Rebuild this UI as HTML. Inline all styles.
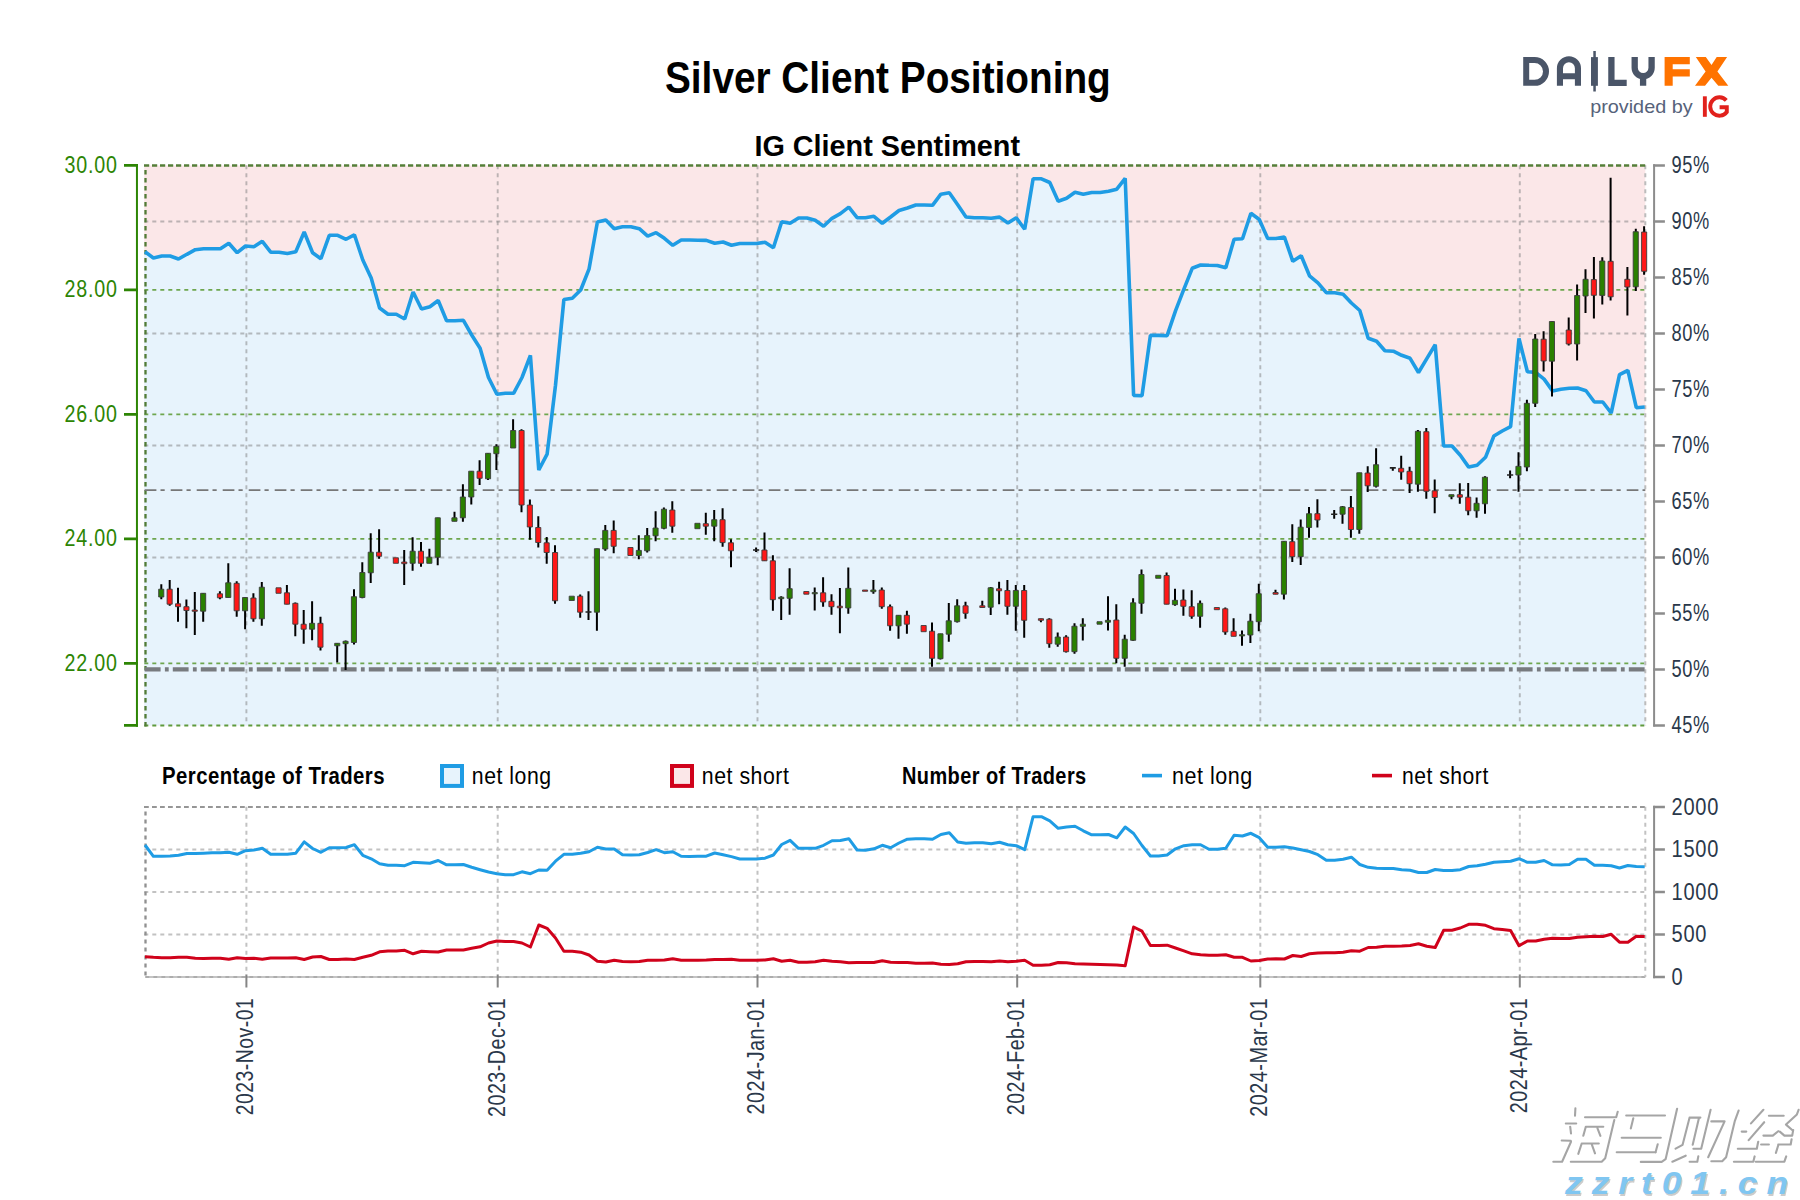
<!DOCTYPE html>
<html><head><meta charset="utf-8"><title>Silver Client Positioning</title>
<style>html,body{margin:0;padding:0;background:#fff}svg{display:block}text{font-family:"Liberation Sans",sans-serif}</style></head><body>
<svg width="1800" height="1200" viewBox="0 0 1800 1200">
<rect width="1800" height="1200" fill="#fff"/>
<rect x="144.2" y="165.5" width="1501.1" height="559.9" fill="#fbe7e8"/>
<polygon points="144.2,725.4 144.2,251.7 145,251.7 153.4,258 161.8,256 170.1,256 178.5,259 186.9,254.3 195.3,249.7 203.6,248.8 212,248.8 220.4,248.8 228.8,243.3 237.2,252.7 245.5,246 253.9,246.8 262.3,241.3 270.7,252.2 279,252.2 287.4,253.5 295.8,251.7 304.2,232 312.6,252.7 320.9,258.7 329.3,235.3 337.7,235.3 346.1,239.3 354.4,234.7 362.8,260 371.2,278 379.6,308 388,314.3 396.3,314.3 404.7,319 413.1,292 421.5,309 429.9,306.7 438.2,300.5 446.6,320.8 455,320.8 463.4,320.3 471.7,335 480.1,348.3 488.5,377.5 496.9,394.2 505.3,393.3 513.6,393.3 522,377.5 530.4,355.5 538.8,470 547.1,454.2 555.5,385.2 563.9,299.5 572.3,298.3 580.7,290 589,269.2 597.4,222 605.8,220 614.2,228.8 622.5,226.7 630.9,226.7 639.3,228.7 647.7,236.2 656.1,232.7 664.4,238.3 672.8,245.3 681.2,240 689.6,240 697.9,240.3 706.3,240.4 714.7,243.2 723.1,242 731.5,245.3 739.8,243.5 748.2,243.5 756.6,243.5 765,242.3 773.4,247.7 781.7,221.7 790.1,223.3 798.5,218 806.9,218 815.2,220.3 823.6,226.2 832,218.3 840.4,213.7 848.8,207.2 857.1,217.7 865.5,217.7 873.9,216.3 882.3,223.3 890.6,217 899,210.5 907.4,208 915.8,205 924.2,205 932.5,205.3 940.9,194.2 949.3,192.8 957.7,204.7 966,217 974.4,217.8 982.8,217.8 991.2,218.3 999.6,217.1 1007.9,223 1016.3,217.8 1024.7,229.2 1033.1,178.8 1041.4,178.8 1049.8,182.5 1058.2,201.2 1066.6,198.3 1075,192.2 1083.3,194.3 1091.7,192.5 1100.1,192.5 1108.5,191.3 1116.8,189.2 1125.2,178.3 1133.6,395.4 1142,395.8 1150.4,335.4 1158.7,335.4 1167.1,335.7 1175.5,310.8 1183.9,289.2 1192.2,268.3 1200.6,265 1209,265.3 1217.4,265.5 1225.8,267.8 1234.1,239.2 1242.5,238.7 1250.9,213.3 1259.3,219.5 1267.7,238.5 1276,238.5 1284.4,237 1292.8,261.3 1301.2,255.8 1309.5,275.8 1317.9,282.8 1326.3,292.7 1334.7,292.8 1343.1,294.2 1351.4,303 1359.8,310.5 1368.2,338.3 1376.6,341.2 1384.9,350.8 1393.3,351.2 1401.7,355.3 1410.1,358.3 1418.5,372.5 1426.8,358.6 1435.2,344.7 1443.6,446 1452,446 1460.3,455.3 1468.7,467.1 1477.1,465.3 1485.5,457.3 1493.9,436 1502.2,431 1510.6,426.7 1519,338.5 1527.4,371.8 1535.7,372.4 1544.1,379.1 1552.5,390.9 1560.9,389.3 1569.3,388.3 1577.6,388 1586,390.7 1594.4,402 1602.8,402 1611.2,413 1619.5,374.7 1627.9,370.3 1636.3,407.7 1644.7,407 1645.3,725.4" fill="#e7f3fc"/>
<path d="M246.4 165.3V723.4M497.7 165.3V723.4M757.5 165.3V723.4M1017.2 165.3V723.4M1260.3 165.3V723.4M1519.8 165.3V723.4" stroke="#7d7d7d" stroke-opacity="0.5" stroke-width="1.9" stroke-dasharray="4 4" fill="none"/>
<path d="M144.3 221.5H1644.3M144.3 333.5H1644.3M144.3 445.5H1644.3M144.3 557.5H1644.3" stroke="#7d7d7d" stroke-opacity="0.5" stroke-width="1.9" stroke-dasharray="4 4" fill="none"/>
<path d="M144.3 289.9H1644.3M144.3 414.4H1644.3M144.3 538.9H1644.3M144.3 663.4H1644.3" stroke="#6ea64e" stroke-width="1.9" stroke-dasharray="4 4" fill="none"/>
<path d="M144.3 725.4H1645.3" stroke="#5f9a3c" stroke-width="2" stroke-dasharray="4 4" fill="none"/>
<path d="M1645.3 165.3V725.4" stroke="#bcbcbc" stroke-width="2" stroke-dasharray="4 4" fill="none"/>
<path d="M144 165.5H1646.1" stroke="#557f39" stroke-width="2.3" stroke-dasharray="5.2 2.8" fill="none"/>
<path d="M145.5 170V726.4" stroke="#527c36" stroke-width="2.3" stroke-dasharray="4.5 3.5" fill="none"/>
<path d="M144.7 490.2H1645.3" stroke="#777" stroke-width="1.8" stroke-dasharray="11.7 4.1 4.2 6" fill="none"/>
<path d="M144.8 669.4H1645.3" stroke="#787b7f" stroke-width="4.1" stroke-dasharray="15.8 4.3 3.8 4.1" fill="none"/>
<polyline points="145,251.7 153.4,258 161.8,256 170.1,256 178.5,259 186.9,254.3 195.3,249.7 203.6,248.8 212,248.8 220.4,248.8 228.8,243.3 237.2,252.7 245.5,246 253.9,246.8 262.3,241.3 270.7,252.2 279,252.2 287.4,253.5 295.8,251.7 304.2,232 312.6,252.7 320.9,258.7 329.3,235.3 337.7,235.3 346.1,239.3 354.4,234.7 362.8,260 371.2,278 379.6,308 388,314.3 396.3,314.3 404.7,319 413.1,292 421.5,309 429.9,306.7 438.2,300.5 446.6,320.8 455,320.8 463.4,320.3 471.7,335 480.1,348.3 488.5,377.5 496.9,394.2 505.3,393.3 513.6,393.3 522,377.5 530.4,355.5 538.8,470 547.1,454.2 555.5,385.2 563.9,299.5 572.3,298.3 580.7,290 589,269.2 597.4,222 605.8,220 614.2,228.8 622.5,226.7 630.9,226.7 639.3,228.7 647.7,236.2 656.1,232.7 664.4,238.3 672.8,245.3 681.2,240 689.6,240 697.9,240.3 706.3,240.4 714.7,243.2 723.1,242 731.5,245.3 739.8,243.5 748.2,243.5 756.6,243.5 765,242.3 773.4,247.7 781.7,221.7 790.1,223.3 798.5,218 806.9,218 815.2,220.3 823.6,226.2 832,218.3 840.4,213.7 848.8,207.2 857.1,217.7 865.5,217.7 873.9,216.3 882.3,223.3 890.6,217 899,210.5 907.4,208 915.8,205 924.2,205 932.5,205.3 940.9,194.2 949.3,192.8 957.7,204.7 966,217 974.4,217.8 982.8,217.8 991.2,218.3 999.6,217.1 1007.9,223 1016.3,217.8 1024.7,229.2 1033.1,178.8 1041.4,178.8 1049.8,182.5 1058.2,201.2 1066.6,198.3 1075,192.2 1083.3,194.3 1091.7,192.5 1100.1,192.5 1108.5,191.3 1116.8,189.2 1125.2,178.3 1133.6,395.4 1142,395.8 1150.4,335.4 1158.7,335.4 1167.1,335.7 1175.5,310.8 1183.9,289.2 1192.2,268.3 1200.6,265 1209,265.3 1217.4,265.5 1225.8,267.8 1234.1,239.2 1242.5,238.7 1250.9,213.3 1259.3,219.5 1267.7,238.5 1276,238.5 1284.4,237 1292.8,261.3 1301.2,255.8 1309.5,275.8 1317.9,282.8 1326.3,292.7 1334.7,292.8 1343.1,294.2 1351.4,303 1359.8,310.5 1368.2,338.3 1376.6,341.2 1384.9,350.8 1393.3,351.2 1401.7,355.3 1410.1,358.3 1418.5,372.5 1426.8,358.6 1435.2,344.7 1443.6,446 1452,446 1460.3,455.3 1468.7,467.1 1477.1,465.3 1485.5,457.3 1493.9,436 1502.2,431 1510.6,426.7 1519,338.5 1527.4,371.8 1535.7,372.4 1544.1,379.1 1552.5,390.9 1560.9,389.3 1569.3,388.3 1577.6,388 1586,390.7 1594.4,402 1602.8,402 1611.2,413 1619.5,374.7 1627.9,370.3 1636.3,407.7 1644.7,407" fill="none" stroke="#1f9ce4" stroke-width="3.6" stroke-linejoin="bevel"/>
<path d="M161.3 584.2V599.2M169.7 580V605.8M178 587.8V621.7M186.4 599.5V628.3M194.8 592V635M203.2 593.3V621.7M219.9 591.2V599.2M228.3 563.3V597.5M236.7 581.3V616.7M245.1 597.5V629.2M253.4 593.3V621.7M261.8 582V625.8M286.9 585V604.2M295.3 602.5V636.2M303.7 610V643.8M312.1 601.2V640.3M320.5 616.7V650.5M337.2 643.3V662.5M345.6 640.5V670M354 589.2V644.5M362.3 562.2V598.3M370.7 533.3V583M379.1 529.2V558.7M404.2 550V585M412.6 537.2V570.8M421 542V566.7M429.4 548.8V563.3M437.7 517.8V565.2M454.5 511.7V521.3M462.9 484.2V521.7M471.3 471.2V504.5M479.6 460.3V485M488 453.3V480M496.4 444.2V470M513.1 419.2V448M521.5 429.2V512.2M529.9 499.5V539.7M538.3 516.3V547.5M546.7 537V563.8M555 545.2V603.8M580.2 594.5V617.8M588.5 591.2V620M596.9 548.7V630.8M605.3 525V550.7M613.7 520.5V553.3M638.8 535.2V559.3M647.2 528.1V552.5M655.6 511.2V541.2M663.9 507.5V529.2M672.3 501.2V532.8M705.8 512.8V534.7M714.2 510V541.2M722.6 508.3V546.7M731 539.2V567.2M756.1 547.5V552M764.5 532.5V560.8M772.9 555.3V610.8M781.2 596.3V620M789.6 568.3V614.7M814.7 587.5V610.6M823.1 577.2V606.7M831.5 594.2V614.7M839.9 588V633.3M848.3 567.5V613.8M873.4 580V593.7M881.8 587.5V608.8M890.1 604.5V630.8M898.5 615.3V638.7M906.9 610.8V633.8M932 622.5V666.7M940.4 633.8V659.5M948.8 603V641.7M957.2 599.2V622.5M965.5 601.7V618.8M982.3 600.8V607.5M990.7 587V615M999.1 581.7V604.2M1007.4 580V614.7M1015.8 585V630.8M1024.2 585V637.8M1040.9 618.7V622.2M1049.3 618.3V647.8M1057.7 632.5V646.7M1066.1 635.3V652.5M1074.5 623.3V653.8M1082.8 618.2V640.4M1108 596.2V630.5M1116.3 604.2V663.3M1124.7 634.7V666.7M1133.1 598.3V640.8M1141.5 569.5V613.7M1166.6 572.5V604.2M1175 588.7V605.8M1183.4 589.5V615.8M1191.7 590.3V618.7M1200.1 600.5V627.8M1225.3 607.5V634.7M1233.6 618.3V636.3M1242 630.5V645.8M1250.4 613.7V643M1258.8 583.8V631.2M1275.5 589.7V594.2M1283.9 541.3V599.5M1292.3 524.2V562M1300.7 519.5V565M1309 507V537.8M1317.4 499.2V527.5M1334.2 510V518.8M1342.5 506V523.7M1350.9 496V537.8M1359.3 472.8V533.7M1367.7 466.3V492M1376.1 448.3V487.5M1392.8 467.5V470.8M1401.2 455.8V479.7M1409.6 466.7V493M1417.9 430V491.7M1426.3 428V498.7M1434.7 479.5V513.3M1451.5 494.7V499.2M1459.8 483.3V503.7M1468.2 483V515.3M1476.6 497.5V517.8M1485 476.2V513.7M1510.1 470.5V478.3M1518.5 452.2V491.7M1526.9 399.7V471.3M1535.2 334V407M1543.6 331.2V371.5M1552 321.5V396.5M1568.7 317.5V345.5M1577.1 284.5V360.5M1585.5 269.3V313M1593.9 257V318.6M1602.3 257.3V304.6M1610.6 177.7V300.4M1627.4 267V315.6M1635.8 228.7V291M1644.1 226.3V274.7" stroke="#000" stroke-width="2" fill="none"/>
<path d="M158.7 589.2h5.1v7.8h-5.1zM200.6 593.3h5.1v17.9h-5.1zM225.7 582.8h5.1v14.7h-5.1zM242.5 597.5h5.1v13.3h-5.1zM259.3 587.2h5.1v31.6h-5.1zM309.5 623.3h5.1v5.9h-5.1zM334.7 643.3h5.1v2.5h-5.1zM343 641.3h5.1v2.4h-5.1zM351.4 596.7h5.1v45.8h-5.1zM359.8 572.5h5.1v25h-5.1zM368.2 552.2h5.1v20.6h-5.1zM410.1 551.2h5.1v12.1h-5.1zM426.8 557.2h5.1v6.1h-5.1zM435.2 517.8h5.1v39.5h-5.1zM451.9 517.8h5.1v3.5h-5.1zM460.3 497h5.1v20.8h-5.1zM468.7 471.2h5.1v25.8h-5.1zM485.5 453.3h5.1v25.5h-5.1zM493.8 446.3h5.1v7.4h-5.1zM510.6 430.5h5.1v17.5h-5.1zM569.2 596.2h5.1v4.3h-5.1zM594.4 548.7h5.1v63.5h-5.1zM602.7 530.4h5.1v18.6h-5.1zM636.3 550.4h5.1v5.1h-5.1zM644.6 535.6h5.1v15.2h-5.1zM653 528h5.1v7.8h-5.1zM661.4 509.2h5.1v19.1h-5.1zM694.9 523.3h5.1v5.4h-5.1zM711.7 519.7h5.1v6.5h-5.1zM778.7 597.2h5.1v1.5h-5.1zM787.1 588.7h5.1v9.6h-5.1zM812.2 592.6h5.1v1.2h-5.1zM845.7 588.3h5.1v19.7h-5.1zM870.8 590h5.1v1.7h-5.1zM896 615.3h5.1v10.5h-5.1zM937.9 633.8h5.1v24.9h-5.1zM946.2 620.8h5.1v13.4h-5.1zM954.6 605.8h5.1v15.9h-5.1zM988.1 587.8h5.1v19.4h-5.1zM1013.3 590.5h5.1v15.8h-5.1zM1055.2 637h5.1v7.2h-5.1zM1071.9 626.2h5.1v25.5h-5.1zM1080.3 624.2h5.1v2.1h-5.1zM1097 621.7h5.1v2.5h-5.1zM1105.4 620.3h5.1v1.9h-5.1zM1122.2 639.2h5.1v19.1h-5.1zM1130.6 602.8h5.1v37.5h-5.1zM1138.9 574.5h5.1v28.8h-5.1zM1155.7 575.3h5.1v3h-5.1zM1172.4 600.3h5.1v4.4h-5.1zM1197.6 603.3h5.1v13h-5.1zM1239.5 634.7h5.1v1.2h-5.1zM1247.8 621.2h5.1v13.8h-5.1zM1256.2 593.7h5.1v28h-5.1zM1281.4 541.3h5.1v52.9h-5.1zM1298.1 527.2h5.1v29.5h-5.1zM1306.5 513.7h5.1v13.8h-5.1zM1340 506.8h5.1v7.4h-5.1zM1356.8 472.8h5.1v56.7h-5.1zM1373.5 464.7h5.1v21.6h-5.1zM1415.4 431.3h5.1v52.9h-5.1zM1448.9 494.7h5.1v2h-5.1zM1474 503.3h5.1v7.5h-5.1zM1482.4 477.2h5.1v26.6h-5.1zM1515.9 466.3h5.1v8.7h-5.1zM1524.3 403.3h5.1v63.7h-5.1zM1532.7 339h5.1v64.3h-5.1zM1549.4 321.5h5.1v39.7h-5.1zM1574.6 295.5h5.1v48.5h-5.1zM1583 279.3h5.1v16.7h-5.1zM1599.7 261h5.1v34.4h-5.1zM1633.2 231.7h5.1v55.1h-5.1z" fill="#2a8000" stroke="#3c3c3c" stroke-width="0.9"/>
<path d="M167.1 589.2h5.1v15h-5.1zM175.5 603.8h5.1v2.9h-5.1zM183.9 606.7h5.1v3.8h-5.1zM192.2 610h5.1v1.3h-5.1zM217.4 593.8h5.1v4h-5.1zM234.1 583.3h5.1v27.5h-5.1zM250.9 598h5.1v20.8h-5.1zM276 587.8h5.1v5.5h-5.1zM284.4 592.8h5.1v11.4h-5.1zM292.8 603.3h5.1v20.9h-5.1zM301.1 624.2h5.1v5h-5.1zM317.9 623.3h5.1v23.9h-5.1zM376.5 552.2h5.1v4.1h-5.1zM393.3 557.8h5.1v5.5h-5.1zM401.7 562h5.1v1.7h-5.1zM418.4 551.2h5.1v12.1h-5.1zM477.1 471.2h5.1v7.1h-5.1zM519 430.5h5.1v74.5h-5.1zM527.3 505h5.1v22h-5.1zM535.7 527.5h5.1v15h-5.1zM544.1 542.8h5.1v9.7h-5.1zM552.5 552.5h5.1v48.3h-5.1zM577.6 596.2h5.1v16h-5.1zM611.1 530.4h5.1v15.9h-5.1zM627.9 547.5h5.1v8h-5.1zM669.8 510h5.1v16.2h-5.1zM703.3 523.7h5.1v2.5h-5.1zM720 519.7h5.1v22.9h-5.1zM728.4 542.8h5.1v8h-5.1zM761.9 550h5.1v10.8h-5.1zM770.3 560.8h5.1v38.9h-5.1zM803.8 591.5h5.1v2.7h-5.1zM820.6 592.8h5.1v9.2h-5.1zM828.9 601.3h5.1v5.4h-5.1zM837.3 606.2h5.1v1.6h-5.1zM862.5 590h5.1v1.3h-5.1zM879.2 590h5.1v16.7h-5.1zM887.6 606.7h5.1v19.1h-5.1zM904.3 615.3h5.1v8.9h-5.1zM921.1 625.5h5.1v6.2h-5.1zM929.5 631.2h5.1v27.1h-5.1zM963 605.8h5.1v7.5h-5.1zM979.8 605.8h5.1v1.7h-5.1zM996.5 588.8h5.1v2h-5.1zM1004.9 590.5h5.1v15.8h-5.1zM1021.6 590.5h5.1v29.8h-5.1zM1038.4 618.7h5.1v1.6h-5.1zM1046.8 619.2h5.1v24.5h-5.1zM1063.5 637h5.1v14.7h-5.1zM1113.8 620h5.1v38.3h-5.1zM1164.1 575.5h5.1v28.7h-5.1zM1180.8 600h5.1v6.3h-5.1zM1189.2 606.7h5.1v9.6h-5.1zM1214.3 607.5h5.1v2.2h-5.1zM1222.7 608.8h5.1v23.2h-5.1zM1231.1 631.3h5.1v5h-5.1zM1273 592.5h5.1v1.7h-5.1zM1289.7 541.7h5.1v15h-5.1zM1314.9 513.7h5.1v6.3h-5.1zM1348.4 507.5h5.1v22h-5.1zM1365.1 473h5.1v12.8h-5.1zM1398.6 468.3h5.1v3.7h-5.1zM1407 471.3h5.1v12.4h-5.1zM1423.8 431.7h5.1v59.6h-5.1zM1432.2 490.8h5.1v6.7h-5.1zM1457.3 494.7h5.1v2.5h-5.1zM1465.7 497.2h5.1v13.6h-5.1zM1541.1 339.2h5.1v21.8h-5.1zM1566.2 330h5.1v14h-5.1zM1591.3 279.6h5.1v15.7h-5.1zM1608.1 261.3h5.1v35.5h-5.1zM1624.8 279.3h5.1v7.7h-5.1zM1641.6 232h5.1v39.3h-5.1z" fill="#ff1717" stroke="#3c3c3c" stroke-width="0.9"/>
<path d="M585.5 612H591.5M753 550H759.2M1331.1 514.2H1337.3M1389.8 467.9H1395.8M1507 475H1513.2" stroke="#222" stroke-width="1.6" fill="none"/>
<path d="M136.95 164V726.8" stroke="#2d8504" stroke-width="2" fill="none"/>
<path d="M124 165.4H138M124 289.9H138M124 414.4H138M124 538.9H138M124 663.4H138M124 725.4H138" stroke="#2d8504" stroke-width="2.8" fill="none"/>
<text x="64.6" y="172.8" font-size="23.8" letter-spacing="0.9" fill="#2d8504" textLength="53" lengthAdjust="spacingAndGlyphs">30.00</text>
<text x="64.6" y="297.3" font-size="23.8" letter-spacing="0.9" fill="#2d8504" textLength="53" lengthAdjust="spacingAndGlyphs">28.00</text>
<text x="64.6" y="421.8" font-size="23.8" letter-spacing="0.9" fill="#2d8504" textLength="53" lengthAdjust="spacingAndGlyphs">26.00</text>
<text x="64.6" y="546.3" font-size="23.8" letter-spacing="0.9" fill="#2d8504" textLength="53" lengthAdjust="spacingAndGlyphs">24.00</text>
<text x="64.6" y="670.8" font-size="23.8" letter-spacing="0.9" fill="#2d8504" textLength="53" lengthAdjust="spacingAndGlyphs">22.00</text>
<path d="M1654.1 164.2V726.6" stroke="#8c8c8c" stroke-width="2" fill="none"/>
<path d="M1653.2 165.5H1664.9M1653.2 221.5H1664.9M1653.2 277.5H1664.9M1653.2 333.5H1664.9M1653.2 389.5H1664.9M1653.2 445.5H1664.9M1653.2 501.5H1664.9M1653.2 557.5H1664.9M1653.2 613.5H1664.9M1653.2 669.5H1664.9M1653.2 725.5H1664.9" stroke="#8c8c8c" stroke-width="2.6" fill="none"/>
<text x="1671.4" y="172.9" font-size="23.8" letter-spacing="0.9" fill="#2a384a" textLength="38.6" lengthAdjust="spacingAndGlyphs">95%</text>
<text x="1671.4" y="228.9" font-size="23.8" letter-spacing="0.9" fill="#2a384a" textLength="38.6" lengthAdjust="spacingAndGlyphs">90%</text>
<text x="1671.4" y="284.9" font-size="23.8" letter-spacing="0.9" fill="#2a384a" textLength="38.6" lengthAdjust="spacingAndGlyphs">85%</text>
<text x="1671.4" y="340.9" font-size="23.8" letter-spacing="0.9" fill="#2a384a" textLength="38.6" lengthAdjust="spacingAndGlyphs">80%</text>
<text x="1671.4" y="396.9" font-size="23.8" letter-spacing="0.9" fill="#2a384a" textLength="38.6" lengthAdjust="spacingAndGlyphs">75%</text>
<text x="1671.4" y="452.9" font-size="23.8" letter-spacing="0.9" fill="#2a384a" textLength="38.6" lengthAdjust="spacingAndGlyphs">70%</text>
<text x="1671.4" y="508.9" font-size="23.8" letter-spacing="0.9" fill="#2a384a" textLength="38.6" lengthAdjust="spacingAndGlyphs">65%</text>
<text x="1671.4" y="564.9" font-size="23.8" letter-spacing="0.9" fill="#2a384a" textLength="38.6" lengthAdjust="spacingAndGlyphs">60%</text>
<text x="1671.4" y="620.9" font-size="23.8" letter-spacing="0.9" fill="#2a384a" textLength="38.6" lengthAdjust="spacingAndGlyphs">55%</text>
<text x="1671.4" y="676.9" font-size="23.8" letter-spacing="0.9" fill="#2a384a" textLength="38.6" lengthAdjust="spacingAndGlyphs">50%</text>
<text x="1671.4" y="732.9" font-size="23.8" letter-spacing="0.9" fill="#2a384a" textLength="38.6" lengthAdjust="spacingAndGlyphs">45%</text>
<path d="M145.4 977H1645.3" stroke="#c4c4c4" stroke-width="2" fill="none"/>
<path d="M145.4 977H1645.3" stroke="#adadad" stroke-width="2" stroke-dasharray="3.8 4.2" fill="none"/>
<path d="M144.3 849.5H1645.3M144.3 892H1645.3M144.3 934.5H1645.3" stroke="#c2c2c2" stroke-width="2" stroke-dasharray="4 4" fill="none"/>
<path d="M246.4 806.8V975M497.7 806.8V975M757.5 806.8V975M1017.2 806.8V975M1260.3 806.8V975M1519.8 806.8V975" stroke="#c2c2c2" stroke-width="2" stroke-dasharray="4 4" fill="none"/>
<path d="M1645.3 806.8V977" stroke="#c2c2c2" stroke-width="2" stroke-dasharray="4 4" fill="none"/>
<path d="M144 807H1646.1" stroke="#969696" stroke-width="2.1" stroke-dasharray="4.8 3.2" fill="none"/>
<path d="M145.5 811.5V978" stroke="#909090" stroke-width="2.3" stroke-dasharray="4 4" fill="none"/>
<path d="M246.4 974.5V987.6M497.7 974.5V987.6M757.5 974.5V987.6M1017.2 974.5V987.6M1260.3 974.5V987.6M1519.8 974.5V987.6" stroke="#858585" stroke-width="2" fill="none"/>
<polyline points="145,845 153.4,856.3 161.8,856.2 170.1,856 178.5,855.2 186.9,853.5 195.3,853.5 203.6,853.2 212,852.8 220.4,852.8 228.8,852.2 237.2,854.3 245.5,850.7 253.9,850 262.3,848.2 270.7,854.3 279,854.3 287.4,854.3 295.8,853.2 304.2,841.8 312.6,848.5 320.9,852.3 329.3,847.7 337.7,847.7 346.1,847.5 354.4,844.7 362.8,855.3 371.2,858.8 379.6,863.8 388,865.3 396.3,865.3 404.7,865.7 413.1,862.3 421.5,862.8 429.9,863.2 438.2,860.5 446.6,864.8 455,864.8 463.4,864.5 471.7,867.2 480.1,869.7 488.5,872 496.9,873.7 505.3,874.7 513.6,874.7 522,871.8 530.4,873.7 538.8,870 547.1,870.3 555.5,861.2 563.9,854.3 572.3,854.3 580.7,853.2 589,851.7 597.4,847.2 605.8,849 614.2,849 622.5,854.8 630.9,855 639.3,854.7 647.7,852.5 656.1,849.7 664.4,852.7 672.8,851.8 681.2,856.3 689.6,856.5 697.9,856.3 706.3,856.2 714.7,853 723.1,854.8 731.5,856.6 739.8,859 748.2,859 756.6,859 765,858.2 773.4,855 781.7,844.5 790.1,840.3 798.5,848.3 806.9,848.3 815.2,848.3 823.6,845.3 832,840.8 840.4,840.5 848.8,838.7 857.1,850 865.5,850.2 873.9,848.8 882.3,845.3 890.6,847.8 899,843 907.4,839.2 915.8,838.7 924.2,838.7 932.5,839.3 940.9,834.5 949.3,832.8 957.7,842 966,843.2 974.4,842.7 982.8,842.7 991.2,843.7 999.6,842.2 1007.9,844.7 1016.3,845.7 1024.7,849.7 1033.1,816.7 1041.4,816.7 1049.8,820.8 1058.2,828.3 1066.6,827 1075,826.3 1083.3,830.8 1091.7,834.8 1100.1,834.7 1108.5,834.5 1116.8,837.8 1125.2,827 1133.6,833.5 1142,845.5 1150.4,856 1158.7,856 1167.1,855 1175.5,848.8 1183.9,845.7 1192.2,844.7 1200.6,844.7 1209,849.2 1217.4,849.3 1225.8,848.3 1234.1,835.3 1242.5,836 1250.9,833.3 1259.3,837.7 1267.7,847.3 1276,847.3 1284.4,846.7 1292.8,848 1301.2,849.7 1309.5,851.5 1317.9,854.7 1326.3,860.2 1334.7,860.2 1343.1,859.3 1351.4,857.2 1359.8,864.5 1368.2,867.3 1376.6,868.3 1384.9,868.5 1393.3,868.5 1401.7,869.8 1410.1,870.2 1418.5,872.5 1426.8,872.5 1435.2,869.5 1443.6,870.5 1452,870.5 1460.3,869.7 1468.7,866.5 1477.1,865.7 1485.5,864.3 1493.9,862.3 1502.2,861.7 1510.6,861.2 1519,858.7 1527.4,862.3 1535.7,862.2 1544.1,860.5 1552.5,864.8 1560.9,865 1569.3,864.5 1577.6,859.2 1586,859.3 1594.4,865.2 1602.8,865.3 1611.2,865.7 1619.5,868 1627.9,865.5 1636.3,866.5 1644.7,866.7" fill="none" stroke="#1f9ce4" stroke-width="3" stroke-linejoin="round"/>
<polyline points="145,956.7 153.4,957.3 161.8,957.7 170.1,957.7 178.5,957.2 186.9,957.3 195.3,958.3 203.6,958.5 212,958.2 220.4,958.2 228.8,959.2 237.2,957.8 245.5,958.5 253.9,958.3 262.3,959.2 270.7,958 279,958 287.4,958 295.8,957.8 304.2,959.5 312.6,957 320.9,956.5 329.3,959.5 337.7,959.5 346.1,959 354.4,959.5 362.8,957.2 371.2,955.3 379.6,951.8 388,951 396.3,951 404.7,950.3 413.1,953.8 421.5,951.3 429.9,951.7 438.2,952 446.6,950 455,950 463.4,950 471.7,948.3 480.1,946.8 488.5,943 496.9,941 505.3,941.5 513.6,941.5 522,943 530.4,947 538.8,925 547.1,928.3 555.5,938 563.9,951.2 572.3,951.2 580.7,952.2 589,955 597.4,961.3 605.8,962 614.2,960.3 622.5,961.5 630.9,961.7 639.3,961.5 647.7,960.2 656.1,960.3 664.4,960 672.8,958.7 681.2,960.2 689.6,960.2 697.9,960.2 706.3,960 714.7,959.5 723.1,959.5 731.5,959.3 739.8,960.2 748.2,960.2 756.6,960.2 765,960 773.4,958.7 781.7,961.2 790.1,960.3 798.5,962.3 806.9,962.3 815.2,961.8 823.6,960.3 832,961.2 840.4,961.7 848.8,962.8 857.1,962.5 865.5,962.5 873.9,962.5 882.3,960.8 890.6,962.2 899,962.5 907.4,962.5 915.8,963.2 924.2,963.2 932.5,963 940.9,964.3 949.3,964.5 957.7,963.8 966,961.8 974.4,961.5 982.8,961.5 991.2,961.7 999.6,961 1007.9,961.8 1016.3,961.2 1024.7,960.3 1033.1,965.2 1041.4,965.2 1049.8,964.8 1058.2,962.5 1066.6,962.8 1075,963.8 1083.3,964 1091.7,964.3 1100.1,964.5 1108.5,964.7 1116.8,965 1125.2,965.8 1133.6,927 1142,931.2 1150.4,945.5 1158.7,945.5 1167.1,945.2 1175.5,948 1183.9,950.8 1192.2,953.8 1200.6,954.7 1209,955.2 1217.4,955.2 1225.8,954.8 1234.1,957.2 1242.5,957.3 1250.9,961 1259.3,960.5 1267.7,959 1276,958.8 1284.4,959 1292.8,955.5 1301.2,956.5 1309.5,953.8 1317.9,953 1326.3,952.8 1334.7,952.8 1343.1,952.3 1351.4,950.7 1359.8,951.2 1368.2,947.5 1376.6,947.3 1384.9,946.2 1393.3,946.2 1401.7,946 1410.1,945.5 1418.5,943.8 1426.8,946.2 1435.2,947.5 1443.6,930.3 1452,930.2 1460.3,928 1468.7,924.3 1477.1,924.3 1485.5,925.3 1493.9,928.7 1502.2,929.5 1510.6,930.5 1519,945.8 1527.4,941 1535.7,941 1544.1,939.2 1552.5,938.2 1560.9,938.5 1569.3,938.5 1577.6,937.2 1586,936.7 1594.4,936.3 1602.8,936.5 1611.2,934.3 1619.5,942.2 1627.9,942.2 1636.3,936.2 1644.7,936.5" fill="none" stroke="#d0021b" stroke-width="3" stroke-linejoin="round"/>
<path d="M1654.1 805.8V978.2" stroke="#8c8c8c" stroke-width="2" fill="none"/>
<path d="M1653.2 807H1664.9M1653.2 849.5H1664.9M1653.2 892H1664.9M1653.2 934.5H1664.9M1653.2 977H1664.9" stroke="#8c8c8c" stroke-width="2.6" fill="none"/>
<text x="1671.5" y="814.9" font-size="23.8" letter-spacing="0.9" fill="#2a384a" textLength="47.6" lengthAdjust="spacingAndGlyphs">2000</text>
<text x="1671.5" y="857.4" font-size="23.8" letter-spacing="0.9" fill="#2a384a" textLength="47.6" lengthAdjust="spacingAndGlyphs">1500</text>
<text x="1671.5" y="899.9" font-size="23.8" letter-spacing="0.9" fill="#2a384a" textLength="47.6" lengthAdjust="spacingAndGlyphs">1000</text>
<text x="1671.5" y="942.4" font-size="23.8" letter-spacing="0.9" fill="#2a384a" textLength="35.7" lengthAdjust="spacingAndGlyphs">500</text>
<text x="1671.5" y="984.9" font-size="23.8" letter-spacing="0.9" fill="#2a384a" textLength="11.9" lengthAdjust="spacingAndGlyphs">0</text>
<text transform="translate(253.0 1115.2) rotate(-90)" font-size="24.2" letter-spacing="0.6" fill="#2a384a" textLength="117.39999999999999" lengthAdjust="spacingAndGlyphs">2023-Nov-01</text>
<text transform="translate(504.6 1117) rotate(-90)" font-size="24.2" letter-spacing="0.6" fill="#2a384a" textLength="119.2" lengthAdjust="spacingAndGlyphs">2023-Dec-01</text>
<text transform="translate(764.3 1114.4) rotate(-90)" font-size="24.2" letter-spacing="0.6" fill="#2a384a" textLength="116.6" lengthAdjust="spacingAndGlyphs">2024-Jan-01</text>
<text transform="translate(1023.9 1115.2) rotate(-90)" font-size="24.2" letter-spacing="0.6" fill="#2a384a" textLength="117.39999999999999" lengthAdjust="spacingAndGlyphs">2024-Feb-01</text>
<text transform="translate(1267.1 1116.8) rotate(-90)" font-size="24.2" letter-spacing="0.6" fill="#2a384a" textLength="119.0" lengthAdjust="spacingAndGlyphs">2024-Mar-01</text>
<text transform="translate(1526.8 1113.2) rotate(-90)" font-size="24.2" letter-spacing="0.6" fill="#2a384a" textLength="115.39999999999999" lengthAdjust="spacingAndGlyphs">2024-Apr-01</text>
<text x="665" y="92.8" font-size="44.6" font-weight="bold" fill="#000" textLength="445.8" lengthAdjust="spacingAndGlyphs">Silver Client Positioning</text>
<text x="754.4" y="155.9" font-size="29.9" font-weight="bold" fill="#000" textLength="265.6" lengthAdjust="spacingAndGlyphs">IG Client Sentiment</text>
<text x="162" y="783.7" font-size="23.3" font-weight="bold" letter-spacing="0.5" fill="#000" textLength="223" lengthAdjust="spacingAndGlyphs">Percentage of Traders</text>
<rect x="442" y="766" width="20" height="19.9" fill="#e7f3fc" stroke="#1f9ce4" stroke-width="4"/>
<text x="471.8" y="783.7" font-size="24.6" letter-spacing="0.6" fill="#000" textLength="79.8" lengthAdjust="spacingAndGlyphs">net long</text>
<rect x="672" y="766" width="20" height="19.9" fill="#fbe7e8" stroke="#d0021b" stroke-width="4"/>
<text x="701.8" y="783.7" font-size="24.6" letter-spacing="0.6" fill="#000" textLength="87.6" lengthAdjust="spacingAndGlyphs">net short</text>
<text x="902" y="783.7" font-size="23.3" font-weight="bold" letter-spacing="0.5" fill="#000" textLength="184.6" lengthAdjust="spacingAndGlyphs">Number of Traders</text>
<path d="M1142 775.6H1162" stroke="#1f9ce4" stroke-width="3.6"/>
<text x="1172" y="783.7" font-size="24.6" letter-spacing="0.6" fill="#000" textLength="80.8" lengthAdjust="spacingAndGlyphs">net long</text>
<path d="M1372 775.6H1392" stroke="#d0021b" stroke-width="3.6"/>
<text x="1402" y="783.7" font-size="24.6" letter-spacing="0.6" fill="#000" textLength="86.8" lengthAdjust="spacingAndGlyphs">net short</text>
<g fill="none" stroke="#4a5568" stroke-width="6">
<path d="M1526.2 60.05H1534.6A11.4 11.4 0 0 1 1534.6 82.85H1526.2Z" stroke-linejoin="miter"/>
<path d="M1559.95 85.8V68.25A9 9 0 0 1 1577.95 68.25V85.8M1559.95 76.3H1577.95" stroke-width="6.1"/>
<path d="M1594.45 57.1V85.8" stroke-width="6.9"/>
<path d="M1594.55 51V91.5" stroke-width="2.5"/>
<path d="M1611.4 57.1V82.8H1626.7" stroke-width="6.3" stroke-linejoin="miter"/>
<path d="M1634.7 57.1V67.8A8.45 8.45 0 0 0 1651.6 67.8V57.1M1643.1 76V85.8" stroke-width="6.3"/>
</g>
<path d="M1664.6 57.1H1689.8V64.3H1672.7V69.2H1689.8V76.5H1672.7V85.8H1664.6Z" fill="#ff7300"/>
<path d="M1695.8 57.1H1705.8L1711.5 65L1716.7 57.1H1727.1L1717.4 71.4L1728.3 85.8H1718.3L1711.5 77.8L1705 85.8H1695L1705.6 71.4Z" fill="#ff7300"/>
<text x="1590.2" y="112.5" font-size="17.8" fill="#56627a" textLength="102.4" lengthAdjust="spacingAndGlyphs">provided by</text>
<path d="M1704.85 96.3V116.8" stroke="#e1211c" stroke-width="3.9" fill="none"/>
<path d="M1726.3 100.4A9.2 9.2 0 1 0 1726.8 112V107.3H1719.6" stroke="#e1211c" stroke-width="3.9" fill="none" stroke-linejoin="miter"/>
<defs><filter id="wb" x="-5%" y="-5%" width="110%" height="110%"><feGaussianBlur stdDeviation="0.7"/></filter></defs>
<path d="M1575.4 1108.3L1575 1115.8M1565.8 1123.5L1576.2 1123.5M1585 1117.3L1615.8 1117.2M1617.7 1111.7L1616.2 1117.2M1570.2 1126.7L1571 1133.5M1561.7 1140.5L1570.8 1140.8M1585.8 1126.7L1603.3 1126.7M1585.8 1126.7L1583.3 1135.8M1581.7 1143.5L1598.8 1143.5M1581.7 1143.5L1578.3 1153.8M1597.5 1128.3L1600.4 1135.8M1591.7 1144.2L1595 1153.3M1614.3 1120L1605.2 1158.3L1601.7 1161.8L1570.8 1161.8M1553.3 1161.8L1562.1 1161.7L1571 1141.7M1626.2 1115.5L1665 1115.5M1633.3 1118.3L1630.8 1128.5M1621.7 1137.7L1660.8 1137.7M1616.7 1152.3L1655.8 1152.3M1657.7 1144.2L1655.5 1152.5M1677.1 1108.8L1665.6 1159.2L1661.7 1161.9L1640.8 1161.9M1689.6 1117.6L1700.4 1117.6M1689.6 1117.6L1682.6 1144.8L1675.6 1148.7M1698.9 1118.3L1692.7 1144.8M1693.4 1148.7L1700.4 1148.7M1710.6 1109.8L1701.2 1148.7M1711.3 1121.4L1724.6 1121.4L1708.2 1157.2M1738.6 1110.6L1734.7 1121.4L1726.1 1157.2L1722.2 1161.3L1711.3 1161.3M1672.4 1161.7L1685.7 1155.7M1689.6 1161.7L1697.3 1161.7L1698.3 1156.4M1763.4 1109.8L1751 1123.4M1764.2 1122.2L1748.7 1140.1M1741.7 1131.6L1746.3 1131.6M1737.8 1148.8L1756.8 1148.8L1758.2 1141.7M1733.9 1161.7L1753.3 1161.7L1754.6 1156.4M1768.9 1115.7L1783.7 1115.7M1798.6 1109.8L1796.9 1114.4L1786 1124.6L1792.2 1130M1763.4 1135.6L1772.8 1135.6L1778.2 1131.2M1779.8 1131.6L1784.4 1135.6L1792.2 1135.6L1793.2 1130M1761.1 1144.5L1768.9 1144.5M1778.2 1144.5L1790.7 1144.5L1791.6 1139.3M1778.4 1144.8L1775.9 1152.9M1755.7 1161.7L1784.4 1161.7L1786.2 1156.4" fill="none" stroke="#8f8f8f" stroke-width="2.1" stroke-linejoin="round" stroke-linecap="round" filter="url(#wb)" opacity="0.8"/>
<text x="1566.3" y="1195.6" font-size="32" font-weight="bold" font-style="italic" fill="#9a9a9a" opacity="0.5" letter-spacing="8" textLength="232" lengthAdjust="spacingAndGlyphs">zzrt01.cn</text>
<text x="1565" y="1194.4" font-size="32" font-weight="bold" font-style="italic" fill="#80c6f1" letter-spacing="8" textLength="232" lengthAdjust="spacingAndGlyphs">zzrt01.cn</text>
</svg></body></html>
